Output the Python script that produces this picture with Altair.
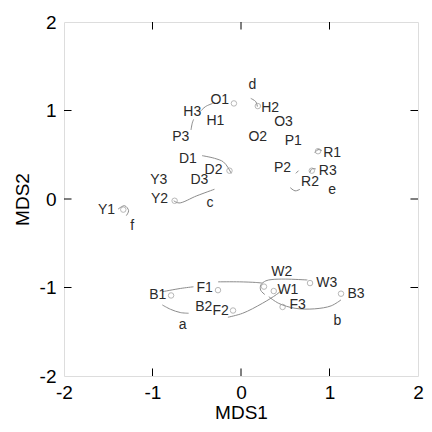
import altair as alt
import pandas as pd

# ---- point labels (text positions) ----
label_names = ["d", "O1", "H2", "H3", "H1", "O3", "P3", "O2", "P1", "R1",
               "D1", "P2", "R3", "D2", "Y3", "D3", "R2", "e", "Y2", "c",
               "Y1", "f", "W2", "W3", "F1", "W1", "B3", "B1", "F3", "B2",
               "F2", "b", "a"]
label_x = [0.13, -0.24, 0.33, -0.55, -0.29, 0.48, -0.68, 0.19, 0.59, 1.03,
           -0.60, 0.47, 0.98, -0.31, -0.93, -0.47, 0.78, 1.03, -0.92, -0.35,
           -1.52, -1.23, 0.46, 0.97, -0.41, 0.53, 1.30, -0.94, 0.64, -0.42,
           -0.23, 1.09, -0.66]
label_y = [1.29, 1.12, 1.03, 0.98, 0.88, 0.87, 0.70, 0.70, 0.65, 0.52,
           0.45, 0.35, 0.32, 0.33, 0.21, 0.21, 0.19, 0.10, 0.00, -0.04,
           -0.12, -0.31, -0.83, -0.95, -1.00, -1.03, -1.07, -1.09, -1.20, -1.22,
           -1.26, -1.38, -1.42]

# ---- small open circles ----
marker_x = [-0.08, 0.19, 0.87, 0.80, -0.13, -0.75, -1.33, 0.78, 1.13, 0.37,
            0.26, 0.47, -0.26, -0.79, -0.09]
marker_y = [1.08, 1.05, 0.54, 0.32, 0.32, -0.02, -0.12, -0.95, -1.07, -1.04,
            -0.99, -1.22, -1.03, -1.09, -1.26]

# ---- enclosing curves ----
curves = {
    "h_low": ([-0.565, -0.55, -0.535], [0.78, 0.86, 0.90]),
    "h_up": ([-0.46, -0.40, -0.32], [0.99, 1.045, 1.08]),
    "h2": ([0.11, 0.167, 0.185], [1.137, 1.10, 1.044]),
    "dd": ([-0.44, -0.30, -0.20, -0.15, -0.11], [0.49, 0.46, 0.42, 0.36, 0.29]),
    "cc": ([-0.76, -0.70, -0.50, -0.30], [-0.02, -0.045, 0.036, 0.11]),
    "r1": ([0.833, 0.87, 0.915], [0.521, 0.558, 0.547]),
    "r3": ([0.778, 0.80, 0.845], [0.30, 0.34, 0.34]),
    "r2": ([0.556, 0.611, 0.667], [0.129, 0.092, 0.11]),
    "p2": ([0.62, 0.65], [0.29, 0.32]),
    "y1": ([-1.389, -1.315, -1.27, -1.296], [-0.114, -0.076, -0.132, -0.188]),
    "b1f1": ([-0.889, -0.686, -0.537], [-1.048, -1.011, -0.992]),
    "aa": ([-0.889, -0.797, -0.686, -0.592], [-1.197, -1.246, -1.283, -1.291]),
    "f1": ([-0.259, -0.019, 0.167, 0.24], [-0.936, -0.936, -0.943, -0.95]),
    "ww": ([0.27, 0.222, 0.225, 0.28, 0.35, 0.50, 0.75],
           [-1.08, -1.03, -0.97, -0.925, -0.91, -0.905, -0.915]),
    "f2": ([-0.148, 0.019, 0.241, 0.40, 0.45], [-1.336, -1.291, -1.179, -1.08, -1.04]),
    "bb": ([0.314, 0.426, 0.611, 0.833, 1.019, 1.13],
           [-1.104, -1.179, -1.235, -1.241, -1.207, -1.14]),
}

tick_values = [-1, 0, 1]
axis_values = [-2, -1, 0, 1, 2]
tick_len = 0.085

labels_df = pd.DataFrame({"name": label_names, "x": label_x, "y": label_y})
markers_df = pd.DataFrame({"x": marker_x, "y": marker_y})
rows = []
for cid, (xs, ys) in curves.items():
    for i, (xv, yv) in enumerate(zip(xs, ys)):
        rows.append({"curve": cid, "order": i, "x": xv, "y": yv})
curves_df = pd.DataFrame(rows)

tick_rows = []
for v in tick_values:
    tick_rows.append({"x": v, "x2": v, "y": -2, "y2": -2 + tick_len})
    tick_rows.append({"x": v, "x2": v, "y": 2, "y2": 2 - tick_len})
    tick_rows.append({"x": -2, "x2": -2 + tick_len, "y": v, "y2": v})
    tick_rows.append({"x": 2, "x2": 2 - tick_len, "y": v, "y2": v})
ticks_df = pd.DataFrame(tick_rows)

FONT = "Liberation Sans"
xscale = alt.Scale(domain=[-2, 2], nice=False, zero=False)
yscale = alt.Scale(domain=[-2, 2], nice=False, zero=False)
xaxis = alt.Axis(values=axis_values, labelExpr="'' + datum.value", title="MDS1",
                 grid=False, domain=False, ticks=False, labelFlush=False,
                 labelFontSize=19, labelPadding=7,
                 titleFontSize=19, titleFontWeight="normal", titlePadding=1,
                 labelColor="#000", titleColor="#000", labelFont=FONT, titleFont=FONT)
yaxis = alt.Axis(values=axis_values, labelExpr="'' + datum.value", title="MDS2",
                 grid=False, domain=False, ticks=False, labelFlush=False,
                 labelFontSize=19, labelPadding=8,
                 titleFontSize=19, titleFontWeight="normal", titlePadding=7,
                 labelColor="#000", titleColor="#000", labelFont=FONT, titleFont=FONT)

base_curves = alt.Chart(curves_df).mark_line(
    color="#8c8c8c", strokeWidth=1, interpolate="catmull-rom"
).encode(
    x=alt.X("x:Q", scale=xscale, axis=xaxis),
    y=alt.Y("y:Q", scale=yscale, axis=yaxis),
    detail="curve:N",
    order="order:Q",
)

markers = alt.Chart(markers_df).mark_point(
    shape="circle", size=30, filled=False, color="#9a9a9a", strokeWidth=1
).encode(x=alt.X("x:Q", scale=xscale), y=alt.Y("y:Q", scale=yscale))

texts = alt.Chart(labels_df).mark_text(
    font=FONT, fontSize=14, color="#2a2a2a", align="center", baseline="middle"
).encode(x=alt.X("x:Q", scale=xscale), y=alt.Y("y:Q", scale=yscale), text="name:N")

ticks = alt.Chart(ticks_df).mark_rule(color="#000", strokeWidth=1).encode(
    x=alt.X("x:Q", scale=xscale), x2="x2:Q",
    y=alt.Y("y:Q", scale=yscale), y2="y2:Q",
)

chart = alt.layer(base_curves, markers, texts, ticks).properties(
    width=354, height=354,
    autosize=alt.AutoSizeParams(type="none"),
    padding={"left": 56, "top": 14, "right": 6, "bottom": 46},
).configure_view(stroke="#000", strokeWidth=1).configure(background="white")

chart.save("out.html", embed_options={"renderer": "svg", "actions": False})
